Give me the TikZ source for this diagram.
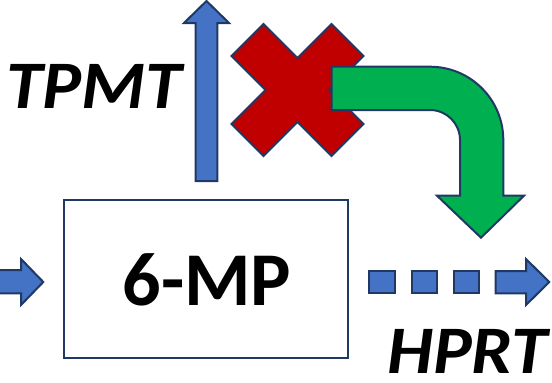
\documentclass[tikz,border=0pt]{standalone}
\usepackage{fontspec}
\newfontfamily\carl{Carlito}
\definecolor{navy}{HTML}{1F3864}
\definecolor{bluef}{HTML}{4472C4}
\definecolor{redf}{HTML}{C00000}
\definecolor{greenf}{HTML}{00B050}
\tikzset{
  shp/.style={draw=navy, line width=2pt, line join=miter},
  lbl/.style={inner sep=0pt, font=\carl\bfseries\itshape\fontsize{68}{68}\selectfont},
}
\begin{document}
\begin{tikzpicture}[x=1pt,y=-1pt]
\useasboundingbox (0,0) rectangle (552,383);
% box
\node[shp, draw=navy, line width=2pt, minimum width=284pt, minimum height=158pt, inner sep=0pt] (box) at (206,279) {};
\node[inner sep=0pt, anchor=base, font=\carl\bfseries\fontsize{76}{76}\selectfont] (mp) at (207,305) {6-MP};
% up arrow
\filldraw[shp, fill=bluef] (195.7,181) -- (195.7,23) -- (184,23) -- (206.5,1) -- (229,23) -- (217.3,23) -- (217.3,181) -- cycle;
% left arrow
\filldraw[shp, fill=bluef] (-5,270) -- (21,270) -- (21,259) -- (43.3,282) -- (21,305) -- (21,293.3) -- (-5,293.3) -- cycle;
% dotted arrow
\filldraw[shp, fill=bluef] (369.3,271) rectangle (395,293.3);
\filldraw[shp, fill=bluef] (411.7,271) rectangle (437.3,293.3);
\filldraw[shp, fill=bluef] (454,271) rectangle (479.3,293.3);
\filldraw[shp, fill=bluef] (495.7,271) -- (526,271) -- (526,259) -- (549.3,282) -- (526,305) -- (526,293.3) -- (495.7,293.3) -- cycle;
% red X
\begin{scope}[shift={(297.5,90)}]
\filldraw[shp, fill=redf] (-34,-66) -- (0,-32) -- (34,-66) -- (66,-34) -- (32,0) -- (66,34) -- (34,66) -- (0,32) -- (-34,66) -- (-66,34) -- (-32,0) -- (-66,-34) -- cycle;
\end{scope}
% green bent arrow
\filldraw[shp, fill=greenf] (331.7,66.7) -- (430,66.7)
  .. controls (470.5,66.7) and (503.3,99.5) .. (503.3,140)
  -- (503.3,195.7) -- (524,195.7) -- (481,237.7) -- (437,195.7) -- (460,195.7) -- (460,140)
  .. controls (460,123.4) and (446.6,110) .. (430,110)
  -- (331.7,110) -- cycle;
% labels
\node[lbl, anchor=base west, xscale=1.08] (tpmt) at (6,108.3) {TPMT};
\node[lbl, anchor=base west, xscale=1.07] (hprt) at (387,373) {HPRT};
\end{tikzpicture}
\end{document}
